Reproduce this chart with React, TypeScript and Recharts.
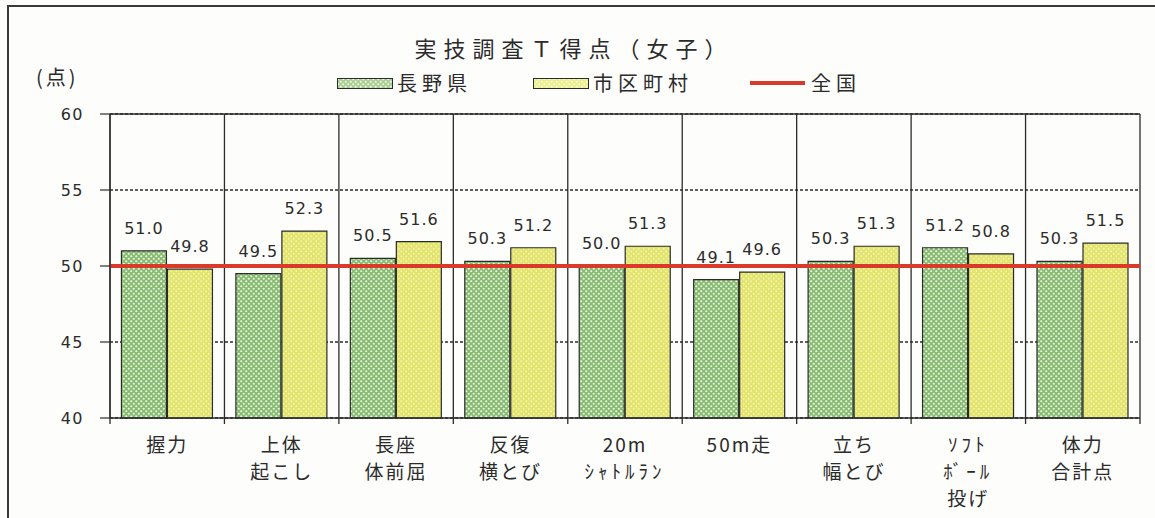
import React from 'react';
import { BarChart, Bar, XAxis, YAxis, CartesianGrid, ReferenceLine, LabelList } from 'recharts';

// 実技調査T得点（女子）
const categories = [
  '握力',
  '上体\n起こし',
  '長座\n体前屈',
  '反復\n横とび',
  '20m\nｼｬﾄﾙﾗﾝ',
  '50m走',
  '立ち\n幅とび',
  'ｿﾌﾄ\nﾎﾞｰﾙ\n投げ',
  '体力\n合計点',
];
const naganoScores = [51.0, 49.5, 50.5, 50.3, 50.0, 49.1, 50.3, 51.2, 50.3];
const cityScores = [49.8, 52.3, 51.6, 51.2, 51.3, 49.6, 51.3, 50.8, 51.5];
const nationalScore = 50;
const yTicks = [40, 45, 50, 55, 60];

const data = categories.map((name, i) => ({
  name,
  nagano: naganoScores[i],
  city: cityScores[i],
}));

const W = 1155;
const H = 518;
const PLOT_LEFT = 110;
const PLOT_RIGHT = 1140;
const PLOT_W = PLOT_RIGHT - PLOT_LEFT;
const BAND_HALF = PLOT_W / categories.length / 2;

const INK = '#2b2b2b';
const JP_FONT = '"Noto Sans CJK JP", "Noto Sans", sans-serif';
const NUM_FONT = '"DejaVu Sans", Verdana, sans-serif';

// half-width katakana come out very narrow, so they get extra spacing
const isHalfWidth = (s: string) => /[\uFF61-\uFF9F]/.test(s);

function CategoryTick(props: any) {
  const { x, y, payload, index } = props;
  const lines = String(payload.value).split('\n');
  const last = index === categories.length - 1;
  return (
    <g>
      <line x1={x - BAND_HALF} y1={y} x2={x - BAND_HALF} y2={y + 6} stroke={INK} strokeWidth={1.3} />
      {last && <line x1={x + BAND_HALF} y1={y} x2={x + BAND_HALF} y2={y + 6} stroke={INK} strokeWidth={1.3} />}
      {lines.map((t, i) => (
        <text
          key={i}
          x={x}
          y={y + 25 + i * 27}
          textAnchor="middle"
          dominantBaseline="central"
          fontFamily={JP_FONT}
          fontSize={19}
          letterSpacing={isHalfWidth(t) ? 4 : 2}
          fill={INK}
        >
          {t}
        </text>
      ))}
    </g>
  );
}

function Swatch({ fill }: { fill: string }) {
  return (
    <svg width={56} height={11} style={{ display: 'block' }}>
      <defs>
        <pattern id={`sw-${fill}`} width={5} height={5} patternUnits="userSpaceOnUse">
          <rect width={5} height={5} fill={fill === 'green' ? '#a9cf95' : '#eef08c'} />
          <circle cx={1.25} cy={1.25} r={1} fill="#f4f9ec" />
          <circle cx={3.75} cy={3.75} r={1} fill="#f4f9ec" />
        </pattern>
      </defs>
      <rect x={0.5} y={0.5} width={55} height={10} fill={`url(#sw-${fill})`} stroke={INK} strokeWidth={1} />
    </svg>
  );
}

export default function App() {
  const legendText: React.CSSProperties = {
    fontFamily: JP_FONT,
    fontSize: 20,
    letterSpacing: 5,
    color: INK,
    lineHeight: '20px',
  };
  return (
    <div
      style={{
        position: 'absolute',
        left: 0,
        top: 0,
        width: W,
        height: H,
        background: '#fdfdfb',
        overflow: 'hidden',
      }}
    >
      {/* frame */}
      <div
        style={{
          position: 'absolute',
          left: 7,
          top: 5,
          width: W,
          height: H,
          borderLeft: '2px solid #3a3a3a',
          borderTop: '2px solid #3a3a3a',
        }}
      />
      <div
        style={{
          position: 'absolute',
          left: 0,
          width: 1148,
          top: 32,
          textAlign: 'center',
          fontFamily: JP_FONT,
          fontSize: 22,
          letterSpacing: 7,
          color: INK,
          lineHeight: '30px',
        }}
      >
        実技調査Ｔ得点（女子）
      </div>
      <div
        style={{
          position: 'absolute',
          left: 36,
          top: 62,
          fontFamily: JP_FONT,
          fontSize: 20,
          letterSpacing: 3,
          color: INK,
        }}
      >
        (点)
      </div>

      {/* legend */}
      <div style={{ position: 'absolute', left: 337, top: 73, display: 'flex', alignItems: 'center', gap: 4 }}>
        <Swatch fill="green" />
        <span style={legendText}>長野県</span>
      </div>
      <div style={{ position: 'absolute', left: 533, top: 73, display: 'flex', alignItems: 'center', gap: 4 }}>
        <Swatch fill="yellow" />
        <span style={legendText}>市区町村</span>
      </div>
      <div style={{ position: 'absolute', left: 750, top: 73, display: 'flex', alignItems: 'center', gap: 6 }}>
        <div style={{ width: 55, height: 4, background: '#d93a2a' }} />
        <span style={legendText}>全国</span>
      </div>

      <div style={{ position: 'absolute', left: 0, top: 0 }}>
        <BarChart
          width={W}
          height={H}
          data={data}
          margin={{ top: 114, right: W - PLOT_RIGHT, bottom: 0, left: 10 }}
          barCategoryGap="10%"
          barGap={1}
        >
          <defs>
            <pattern id="naganoFill" width={5} height={5} patternUnits="userSpaceOnUse">
              <rect width={5} height={5} fill="#86bb70" />
              <circle cx={1.25} cy={1.25} r={1.1} fill="#eef6e6" />
              <circle cx={3.75} cy={3.75} r={1.1} fill="#eef6e6" />
            </pattern>
            <pattern id="cityFill" width={5} height={5} patternUnits="userSpaceOnUse">
              <rect width={5} height={5} fill="#e2e46c" />
              <circle cx={1.25} cy={1.25} r={0.9} fill="#f4f5b6" />
              <circle cx={3.75} cy={3.75} r={0.9} fill="#f4f5b6" />
            </pattern>
          </defs>
          <CartesianGrid vertical={false} stroke={INK} strokeWidth={1.3} strokeDasharray="3 2" />
          <CartesianGrid
            horizontal={false}
            stroke={INK}
            strokeWidth={1.3}
            verticalCoordinatesGenerator={({ offset }: any) =>
              Array.from({ length: categories.length + 1 }, (_, i) => offset.left + (i * offset.width) / categories.length)
            }
          />
          <XAxis
            dataKey="name"
            interval={0}
            height={100}
            tickSize={0}
            tickMargin={0}
            tickLine={false}
            axisLine={{ stroke: INK, strokeWidth: 1.3 }}
            tick={<CategoryTick />}
          />
          <YAxis
            domain={[40, 60]}
            ticks={yTicks}
            width={100}
            tickSize={10}
            tickMargin={16}
            axisLine={{ stroke: INK, strokeWidth: 1.3 }}
            tickLine={{ stroke: INK, strokeWidth: 1.2 }}
            tick={{ fontFamily: NUM_FONT, fontSize: 16, fill: INK, letterSpacing: 1.5 }}
          />
          <ReferenceLine y={60} stroke={INK} strokeWidth={1.3} />
          <Bar dataKey="nagano" name="長野県" fill="url(#naganoFill)" stroke={INK} strokeWidth={1.2} isAnimationActive={false}>
            <LabelList
              dataKey="nagano"
              position="top"
              offset={17}
              formatter={(v: any) => Number(v).toFixed(1)}
              style={{ fontFamily: NUM_FONT, fontSize: 16, fill: INK, letterSpacing: 1 }}
            />
          </Bar>
          <Bar dataKey="city" name="市区町村" fill="url(#cityFill)" stroke={INK} strokeWidth={1.2} isAnimationActive={false}>
            <LabelList
              dataKey="city"
              position="top"
              offset={17}
              formatter={(v: any) => Number(v).toFixed(1)}
              style={{ fontFamily: NUM_FONT, fontSize: 16, fill: INK, letterSpacing: 1 }}
            />
          </Bar>
          <ReferenceLine y={nationalScore} stroke="#d93a2a" strokeWidth={4} />
        </BarChart>
      </div>
    </div>
  );
}
